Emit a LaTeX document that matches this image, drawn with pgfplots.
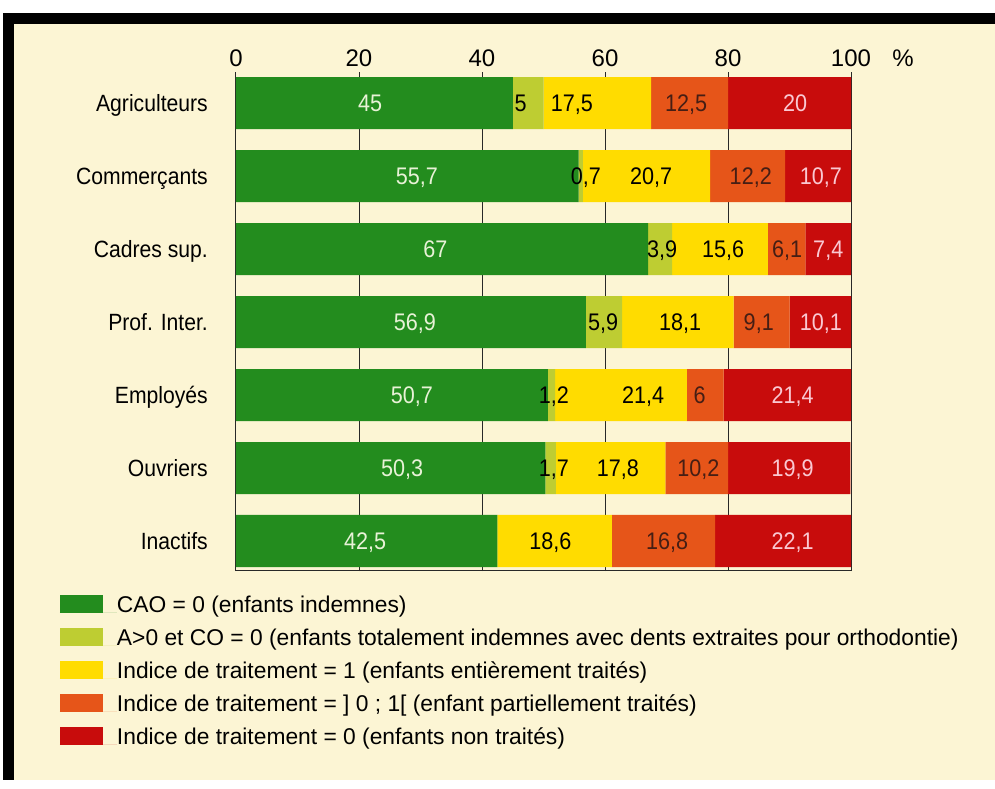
\documentclass[border=0pt]{standalone}
\usepackage{pgfplots}
\usepackage{pgfplotstable}
\pgfplotsset{compat=1.18}
\usepackage{fontspec}
\setmainfont{Liberation Sans}[FakeStretch=0.9]
\newfontfamily\widefont{Liberation Sans}
\definecolor{cgreen}{RGB}{35,140,30}
\definecolor{clime}{RGB}{190,205,50}
\definecolor{cyellow}{RGB}{255,220,0}
\definecolor{corange}{RGB}{230,85,25}
\definecolor{cred}{RGB}{200,12,12}
\definecolor{cream}{RGB}{252,245,212}
\definecolor{lgreen}{RGB}{232,242,215}
\definecolor{lpink}{RGB}{250,200,210}
\definecolor{dorange}{RGB}{70,30,20}
\definecolor{gridc}{RGB}{40,40,40}

\pgfplotstableread{
y  cao  aco  ita  itp  itz
6  45   5    17.5 12.5 20
5  55.7 0.7  20.7 12.2 10.7
4  67   3.9  15.6 6.1  7.4
3  56.9 5.9  18.1 9.1  10.1
2  50.7 1.2  21.4 6    21.4
1  50.3 1.7  17.8 10.2 19.9
0  42.5 0    18.6 16.8 22.1
}\datatable

\pgfplotstableread{
y x lab
6 21.8 45
5 29.4 55,7
4 32.4 67
3 29.1 56,9
2 28.6 50,7
1 27.0 50,3
0 21.0 42,5
}\labgreen
\pgfplotstableread{
y x lab
6 46.3 5
5 56.9 0,7
4 69.3 3,9
3 59.7 5,9
2 51.7 1,2
1 51.7 1,7
}\lablime
\pgfplotstableread{
y x lab
6 54.6 17,5
5 67.5 20,7
4 79.2 15,6
3 72.2 18,1
2 66.2 21,4
1 62.1 17,8
0 51.1 18,6
}\labyellow
\pgfplotstableread{
y x lab
6 73.2 12,5
5 83.7 12,2
4 89.6 6,1
3 85.0 9,1
2 75.4 6
1 75.2 10,2
0 70.1 16,8
}\laborange
\pgfplotstableread{
y x lab
6 90.9 20
5 95.1 10,7
4 96.3 7,4
3 95.1 10,1
2 90.5 21,4
1 90.5 19,9
0 90.5 22,1
}\labred

\pgfplotsset{
  vallab/.style={draw=none, mark=none,
    nodes near coords, point meta=explicit symbolic,
    every node near coord/.style={anchor=center, inner sep=0pt, text height=17pt, text depth=0pt,
      font=\fontsize{24}{28}\selectfont, text=#1}},
  samegeom/.style={at={(0,0)}, anchor=south west,
    scale only axis, width=615pt, height=499pt,
    xmin=0, xmax=100, ymin=-0.411, ymax=6.425},
}

\begin{document}
\begin{tikzpicture}
\fill[white] (-236pt,-218pt) rectangle (759pt,571pt);
\fill[black] (-233pt,-209pt) rectangle (759pt,558pt);
\fill[cream] (-222pt,-209pt) rectangle (759pt,547pt);
\begin{axis}[
  name=ax, samegeom,
  xbar stacked, bar width=52pt,
  axis line style={draw=none},
  tick style={draw=none},
  xtick={0,20,40,60,80,100},
  xticklabel pos=upper,
  xmajorgrids,
  major grid style={draw=gridc, line width=1pt},
  /pgf/number format/assume math mode=true,
  xticklabel style={font=\widefont\fontsize{24}{28}\selectfont, anchor=base, inner sep=0pt, yshift=5pt},
  ytick={0,1,2,3,4,5,6},
  yticklabels={Inactifs,Ouvriers,Employés,Prof. Inter.,Cadres sup.,Commerçants,Agriculteurs},
  yticklabel style={font=\fontsize{23.5}{28}\selectfont, anchor=east, inner sep=0pt,
    text height=17pt, text depth=0pt, xshift=-28pt},
  legend style={at={(axis description cs:-0.2862,-0.0471)}, anchor=north west,
    draw=none, fill=none, inner sep=0pt, outer sep=0pt, row sep=10.5pt,
    nodes={inner sep=0pt, anchor=base west, text height=17pt, text depth=5pt,
      font=\widefont\fontsize{22.8}{26}\selectfont}},
  legend image code/.code={\fill[#1,draw=none] (0pt,-0.5pt) rectangle (43pt,17.5pt); \path (0pt,0pt) -- (57pt,0pt);},
]
\addplot[fill=cgreen, draw=none] table[x=cao, y=y] {\datatable};
\addlegendentry{CAO = 0 (enfants indemnes)}
\addplot[fill=clime, draw=none] table[x=aco, y=y] {\datatable};
\addlegendentry{A>0 et CO = 0 (enfants totalement indemnes avec dents extraites pour orthodontie)}
\addplot[fill=cyellow, draw=none] table[x=ita, y=y] {\datatable};
\addlegendentry{Indice de traitement = 1 (enfants entièrement traités)}
\addplot[fill=corange, draw=none] table[x=itp, y=y] {\datatable};
\addlegendentry{Indice de traitement = ] 0 ; 1[ (enfant partiellement traités)}
\addplot[fill=cred, draw=none] table[x=itz, y=y] {\datatable};
\addlegendentry{Indice de traitement = 0 (enfants non traités)}
\end{axis}
\begin{axis}[samegeom, hide axis, clip=false]
\addplot[vallab=lgreen] table[x=x, y=y, meta=lab] {\labgreen};
\addplot[vallab=black] table[x=x, y=y, meta=lab] {\lablime};
\addplot[vallab=black] table[x=x, y=y, meta=lab] {\labyellow};
\addplot[vallab=dorange] table[x=x, y=y, meta=lab] {\laborange};
\addplot[vallab=lpink] table[x=x, y=y, meta=lab] {\labred};
\end{axis}
\draw[draw=gridc, line width=1pt] (ax.south west) -- (ax.south east);
\node[font=\widefont\fontsize{24}{28}\selectfont, anchor=base, inner sep=0pt] at ([xshift=52pt, yshift=5pt]ax.north east) {\%};
\end{tikzpicture}
\end{document}
